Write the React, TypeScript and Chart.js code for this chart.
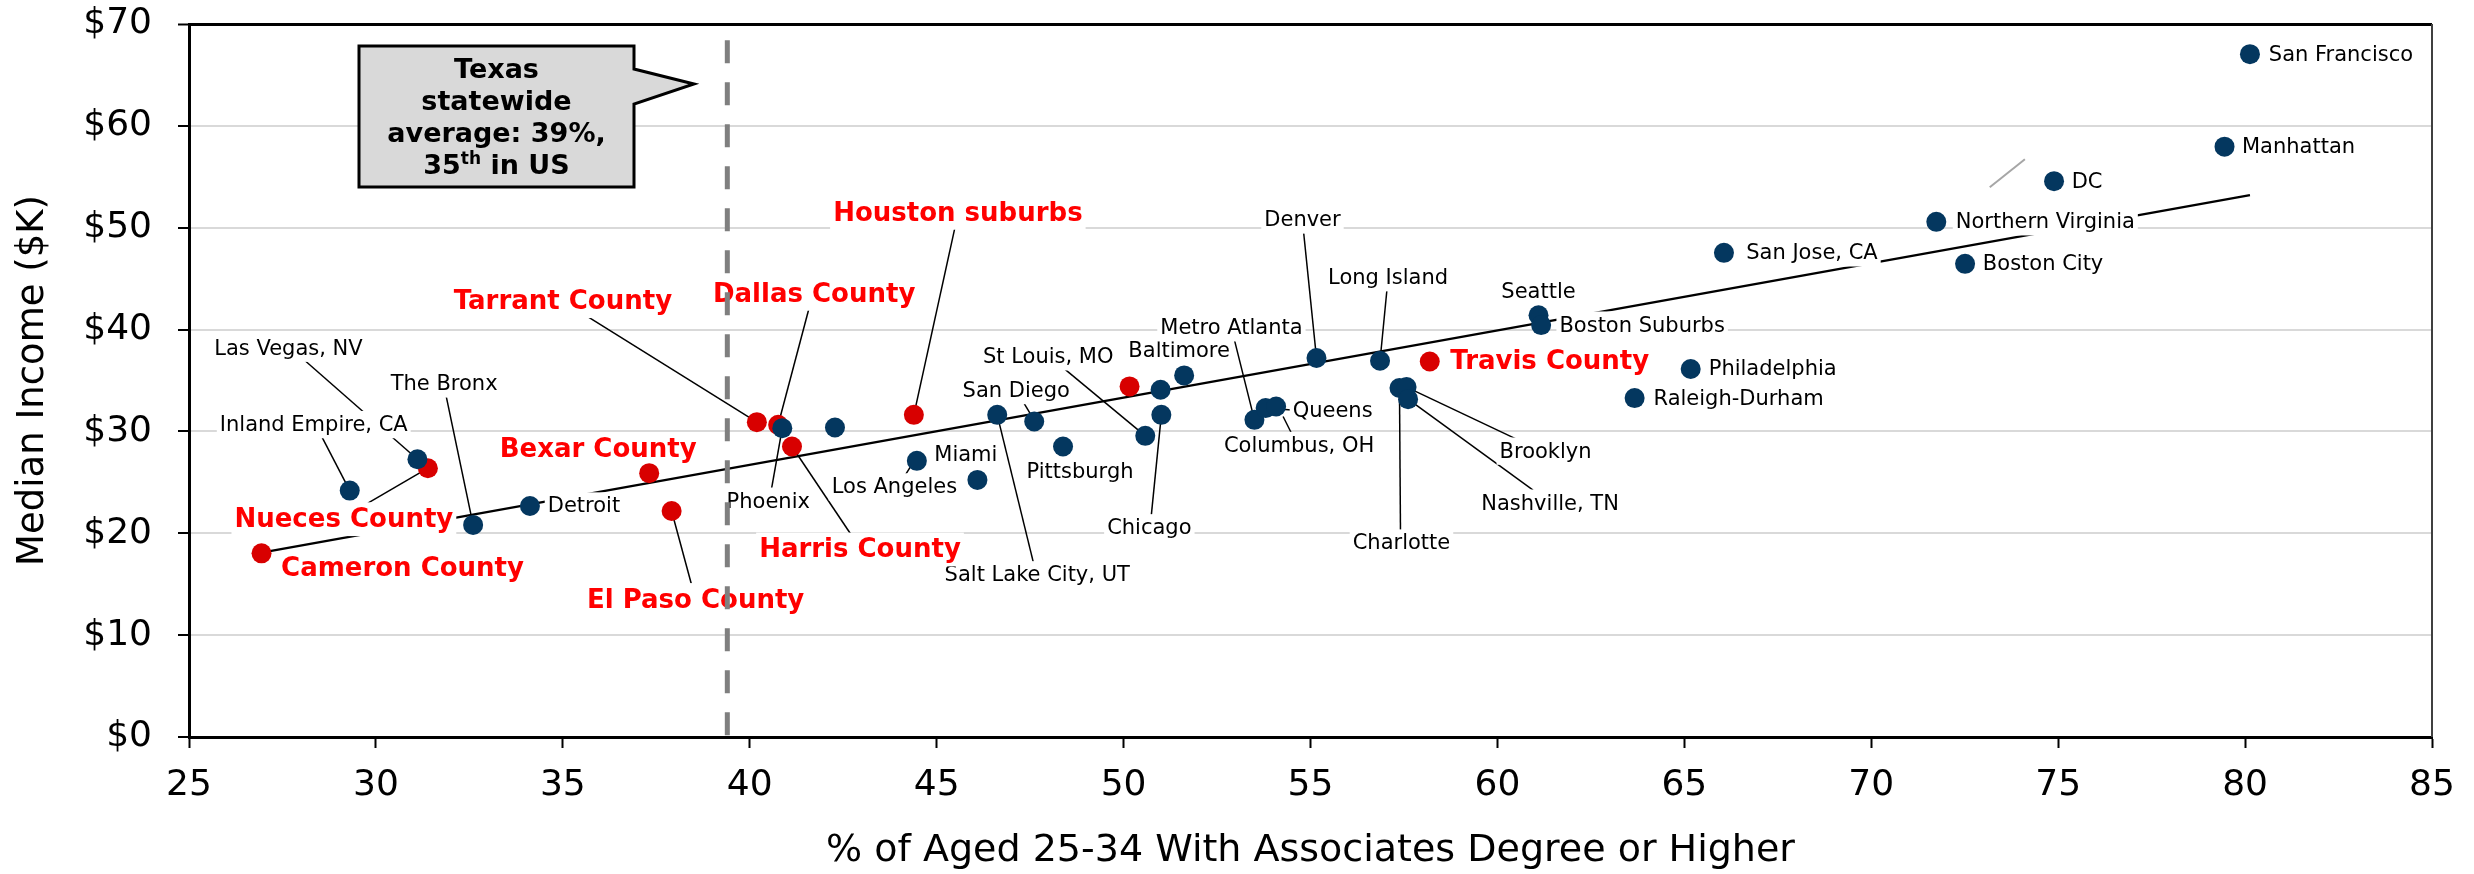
import React, { useEffect, useRef } from 'react';
import { Chart, registerables } from 'chart.js';

Chart.register(...registerables);

const FONT = '"DejaVu Sans", Verdana, sans-serif';

// ---------- data ----------
const blueNames = ['Inland Empire, CA', 'Las Vegas, NV', 'The Bronx', 'Detroit', 'Phoenix', '', 'Miami', 'Los Angeles', 'Salt Lake City, UT', 'San Diego', 'Pittsburgh', 'St Louis, MO', '', 'Chicago', 'Baltimore', 'Metro Atlanta', 'Queens', 'Columbus, OH', 'Denver', 'Long Island', 'Charlotte', 'Brooklyn', 'Nashville, TN', 'Seattle', 'Boston Suburbs', 'Raleigh-Durham', 'Philadelphia', 'San Jose, CA', 'Northern Virginia', 'Boston City', 'DC', 'Manhattan', 'San Francisco'];
const blueX = [29.30, 31.11, 32.60, 34.12, 40.87, 42.28, 44.47, 46.09, 46.62, 47.61, 48.38, 50.58, 50.99, 51.01, 51.62, 53.50, 53.80, 54.08, 55.16, 56.86, 57.38, 57.57, 57.61, 61.10, 61.17, 63.67, 65.17, 66.06, 71.74, 72.51, 74.89, 79.45, 80.13];
const blueY = [24.19, 27.27, 20.82, 22.68, 30.32, 30.39, 27.11, 25.24, 31.63, 30.97, 28.52, 29.57, 34.09, 31.63, 35.50, 31.14, 32.29, 32.45, 37.21, 36.94, 34.26, 34.35, 33.17, 41.41, 40.44, 33.27, 36.13, 47.53, 50.58, 46.45, 54.57, 57.96, 67.04];

const redNames = ['Cameron County', 'Nueces County', 'Bexar County', 'El Paso County', 'Tarrant County', 'Dallas County', 'Harris County', 'Houston suburbs', '', 'Travis County'];
const redX = [26.94, 31.39, 37.31, 37.91, 40.19, 40.76, 41.13, 44.39, 50.16, 58.19];
const redY = [18.03, 26.39, 25.90, 22.19, 30.91, 30.65, 28.52, 31.63, 34.42, 36.87];

const trendX = [26.94, 80.13];
const trendY = [18.1, 53.2];

const texasAvgX = 39.4;
const texasLineY = [68.4, 0];

const strayX = [73.17, 74.11];
const strayY = [53.97, 56.72];

const xTickLabels = ['25', '30', '35', '40', '45', '50', '55', '60', '65', '70', '75', '80', '85'];
const yTickLabels = ['$0', '$10', '$20', '$30', '$40', '$50', '$60', '$70'];

const xTitle = '% of Aged 25-34 With Associates Degree or Higher';
const yTitle = 'Median Income ($K)';
const calloutLines = ['Texas', 'statewide', 'average: 39%,'];

// ---------- label layout (pixel offsets from the point) ----------
type LL = { n: string; dx: number; dy: number; lx?: number; ly?: number; ex?: number; ey?: number };
const labelLayout: LL[] = [
  { n: 'Las Vegas, NV', dx: -129, dy: -111, lx: -114, ly: -100 },
  { n: 'Inland Empire, CA', dx: -36, dy: -66, lx: -28, ly: -54 },
  { n: 'The Bronx', dx: -29, dy: -141, lx: -27, ly: -129 },
  { n: 'Detroit', dx: 54, dy: 0 },
  { n: 'Phoenix', dx: -14, dy: 73, lx: -11, ly: 62 },
  { n: 'Los Angeles', dx: -83, dy: 7, lx: -72, ly: -5, ex: -67, ey: -13 },
  { n: 'Miami', dx: 49, dy: -6 },
  { n: 'San Diego', dx: -18, dy: -31, lx: -10, ly: -18, ex: -4, ey: -8 },
  { n: 'Salt Lake City, UT', dx: 40, dy: 160, lx: 36, ly: 147 },
  { n: 'Pittsburgh', dx: 17, dy: 25 },
  { n: 'St Louis, MO', dx: -97, dy: -79, lx: -82, ly: -68 },
  { n: 'Baltimore', dx: -5, dy: -25 },
  { n: 'Chicago', dx: -12, dy: 113, lx: -10, ly: 100 },
  { n: 'Metro Atlanta', dx: -23, dy: -92, lx: -20, ly: -80 },
  { n: 'Queens', dx: 67, dy: 2, lx: 26, ly: 2 },
  { n: 'Columbus, OH', dx: 23, dy: 39, lx: 15, ly: 26, ex: 7, ey: 10 },
  { n: 'Denver', dx: -14, dy: -138, lx: -13, ly: -127 },
  { n: 'Long Island', dx: 8, dy: -83, lx: 7, ly: -72 },
  { n: 'Seattle', dx: 0, dy: -24 },
  { n: 'Boston Suburbs', dx: 101, dy: 0 },
  { n: 'Brooklyn', dx: 139, dy: 64, lx: 112, ly: 53 },
  { n: 'Nashville, TN', dx: 142, dy: 104, lx: 125, ly: 91 },
  { n: 'Charlotte', dx: 2, dy: 155, lx: 1, ly: 143 },
  { n: 'San Francisco', dx: 91, dy: 0 },
  { n: 'Manhattan', dx: 74, dy: 0 },
  { n: 'DC', dx: 33, dy: 0 },
  { n: 'Northern Virginia', dx: 109, dy: 0 },
  { n: 'San Jose, CA', dx: 88, dy: 0 },
  { n: 'Boston City', dx: 78, dy: 0 },
  { n: 'Philadelphia', dx: 82, dy: 0 },
  { n: 'Raleigh-Durham', dx: 104, dy: 0 },
  { n: 'Tarrant County', dx: -194, dy: -121, lx: -170, ly: -106 },
  { n: 'Dallas County', dx: 36, dy: -131, lx: 31, ly: -117 },
  { n: 'Houston suburbs', dx: 44, dy: -202, lx: 41, ly: -187 },
  { n: 'Bexar County', dx: -51, dy: -24 },
  { n: 'Nueces County', dx: -84, dy: 51, lx: -60, ly: 35 },
  { n: 'Cameron County', dx: 141, dy: 15 },
  { n: 'El Paso County', dx: 24, dy: 89, lx: 20, ly: 74 },
  { n: 'Harris County', dx: 68, dy: 103, lx: 59, ly: 88 },
  { n: 'Travis County', dx: 120, dy: 0 },
];

const BLUE = '#04375F';
const RED_DOT = '#D80000';
const RED_TEXT = '#FF0000';
const TREND_INDEX = 4;

function lookup(n: string) {
  let i = blueNames.indexOf(n);
  if (i >= 0) return { x: blueX[i], y: blueY[i], red: false };
  i = redNames.indexOf(n);
  return { x: redX[i], y: redY[i], red: true };
}

const annotPlugin = {
  id: 'annot',
  afterDatasetDraw(chart: any, args: any) {
    if (args.index !== TREND_INDEX) return;
    const ctx = chart.ctx;
    const xs = chart.scales.x;
    const ys = chart.scales.y;
    ctx.save();
    ctx.strokeStyle = '#000';
    ctx.lineWidth = 1.5;
    for (const L of labelLayout) {
      if (L.lx === undefined) continue;
      const p = lookup(L.n);
      const px = xs.getPixelForValue(p.x);
      const py = ys.getPixelForValue(p.y);
      ctx.beginPath();
      ctx.moveTo(px + L.lx, py + (L.ly as number));
      ctx.lineTo(px + (L.ex ?? 0), py + (L.ey ?? 0));
      ctx.stroke();
    }
    ctx.textAlign = 'center';
    ctx.textBaseline = 'middle';
    for (const L of labelLayout) {
      const p = lookup(L.n);
      const px = xs.getPixelForValue(p.x);
      const py = ys.getPixelForValue(p.y);
      const size = p.red ? 26 : 21;
      ctx.font = `${p.red ? 'bold ' : ''}${size}px ${FONT}`;
      const w = ctx.measureText(L.n).width;
      const cx = px + L.dx;
      const cy = py + L.dy;
      ctx.fillStyle = '#fff';
      ctx.fillRect(cx - w / 2 - 3, cy - size * 0.65, w + 6, size * 1.3);
      ctx.fillStyle = p.red ? RED_TEXT : '#000';
      ctx.fillText(L.n, cx, cy + 1);
    }
    ctx.restore();
  },
  afterDraw(chart: any) {
    const ctx = chart.ctx;
    const a = chart.chartArea;
    ctx.save();
    // right border
    ctx.strokeStyle = '#404040';
    ctx.lineWidth = 2;
    ctx.beginPath();
    ctx.moveTo(a.right, a.top);
    ctx.lineTo(a.right, a.bottom);
    ctx.stroke();
    // callout box
    const L = 359, R = 634, T = 46, B = 187;
    ctx.beginPath();
    ctx.moveTo(L, T);
    ctx.lineTo(R, T);
    ctx.lineTo(R, 69);
    ctx.lineTo(694, 84);
    ctx.lineTo(R, 104);
    ctx.lineTo(R, B);
    ctx.lineTo(L, B);
    ctx.closePath();
    ctx.fillStyle = '#D9D9D9';
    ctx.fill();
    ctx.strokeStyle = '#000';
    ctx.lineWidth = 3;
    ctx.lineJoin = 'miter';
    ctx.stroke();
    const cx = (L + R) / 2;
    ctx.fillStyle = '#000';
    ctx.textBaseline = 'alphabetic';
    ctx.textAlign = 'center';
    ctx.font = `bold 27px ${FONT}`;
    const baselines = [78, 110, 142, 174];
    calloutLines.forEach((t, i) => ctx.fillText(t, cx, baselines[i]));
    // "35th in US"
    const big = `bold 27px ${FONT}`;
    const small = `bold 17px ${FONT}`;
    ctx.font = big;
    const w1 = ctx.measureText('35').width;
    const w3 = ctx.measureText(' in US').width;
    ctx.font = small;
    const w2 = ctx.measureText('th').width;
    let x = cx - (w1 + w2 + w3) / 2;
    ctx.textAlign = 'left';
    ctx.font = big;
    ctx.fillText('35', x, baselines[3]);
    x += w1;
    ctx.font = small;
    ctx.fillText('th', x, baselines[3] - 10);
    x += w2;
    ctx.font = big;
    ctx.fillText(' in US', x, baselines[3]);
    ctx.restore();
  },
};

export default function App() {
  const ref = useRef<HTMLCanvasElement | null>(null);
  useEffect(() => {
    if (!ref.current) return;
    Chart.defaults.font.family = FONT;
    const chart = new Chart(ref.current, {
      type: 'scatter',
      data: {
        datasets: [
          {
            label: 'Metros',
            data: blueX.map((x, i) => ({ x, y: blueY[i] })),
            backgroundColor: BLUE,
            borderWidth: 0,
            pointRadius: 10,
            order: 0,
          },
          {
            label: 'Texas',
            data: redX.map((x, i) => ({ x, y: redY[i] })),
            backgroundColor: RED_DOT,
            borderWidth: 0,
            pointRadius: 10,
            order: 1,
          },
          {
            label: 'Texas average',
            data: texasLineY.map((y) => ({ x: texasAvgX, y })),
            showLine: true,
            borderColor: '#7F7F7F',
            borderWidth: 5,
            borderDash: [23, 19],
            borderCapStyle: 'butt',
            pointRadius: 0,
            order: 5,
          },
          {
            label: 'stray',
            data: strayX.map((x, i) => ({ x, y: strayY[i] })),
            showLine: true,
            borderColor: '#A6A6A6',
            borderWidth: 2,
            pointRadius: 0,
            order: 10,
          },
          {
            label: 'Trend',
            data: trendX.map((x, i) => ({ x, y: trendY[i] })),
            showLine: true,
            borderColor: '#000',
            borderWidth: 2.5,
            pointRadius: 0,
            order: 10,
          },
        ],
      } as any,
      options: {
        responsive: false,
        devicePixelRatio: 1,
        animation: false,
        events: [],
        layout: { padding: { top: 24, right: 42, bottom: 0, left: 0 } },
        plugins: { legend: { display: false }, tooltip: { enabled: false } },
        scales: {
          x: {
            type: 'linear',
            min: 25,
            max: 85,
            afterFit: (s: any) => { s.height = 137; s.paddingLeft = 0; s.paddingRight = 0; },
            afterBuildTicks: (s: any) => {
              s.ticks = xTickLabels.map((t) => ({ value: Number(t) }));
            },
            ticks: {
              callback: (_v: any, i: number) => xTickLabels[i],
              font: { size: 36 },
              color: '#000',
              padding: 16,
              maxRotation: 0,
            },
            grid: {
              drawOnChartArea: false,
              drawTicks: true,
              tickLength: 11,
              tickColor: '#000',
              tickWidth: 2,
            },
            border: { display: true, color: '#000', width: 3 },
            title: {
              display: true,
              text: xTitle,
              font: { size: 38 },
              color: '#000',
              padding: { top: 0, bottom: 0 },
            },
          },
          y: {
            type: 'linear',
            min: 0,
            max: 70,
            afterFit: (s: any) => { s.width = 189; s.paddingTop = 0; s.paddingBottom = 0; },
            afterBuildTicks: (s: any) => {
              s.ticks = yTickLabels.map((t) => ({ value: Number(t.slice(1)) }));
            },
            ticks: {
              callback: (_v: any, i: number) => yTickLabels[i],
              font: { size: 36 },
              color: '#000',
              padding: 26,
            },
            grid: {
              color: (c: any) => (c.tick && c.tick.value === 70 ? '#000' : c.tick && c.tick.value === 0 ? 'rgba(0,0,0,0)' : '#D9D9D9'),
              lineWidth: (c: any) => (c.tick && c.tick.value === 70 ? 3 : 2),
              drawTicks: true,
              tickLength: 11,
              tickColor: '#000',
              tickWidth: 2,
            },
            border: { display: true, color: '#000', width: 3 },
            title: {
              display: true,
              text: yTitle,
              font: { size: 37 },
              color: '#000',
              padding: { top: 11, bottom: 0 },
            },
          },
        },
      } as any,
      plugins: [annotPlugin],
    });
    return () => chart.destroy();
  }, []);
  return (
    <div style={{ position: 'fixed', left: 0, top: 0, width: 2474, height: 874, background: '#fff' }}>
      <canvas ref={ref} width={2474} height={874} style={{ display: 'block', width: 2474, height: 874 }} />
    </div>
  );
}
